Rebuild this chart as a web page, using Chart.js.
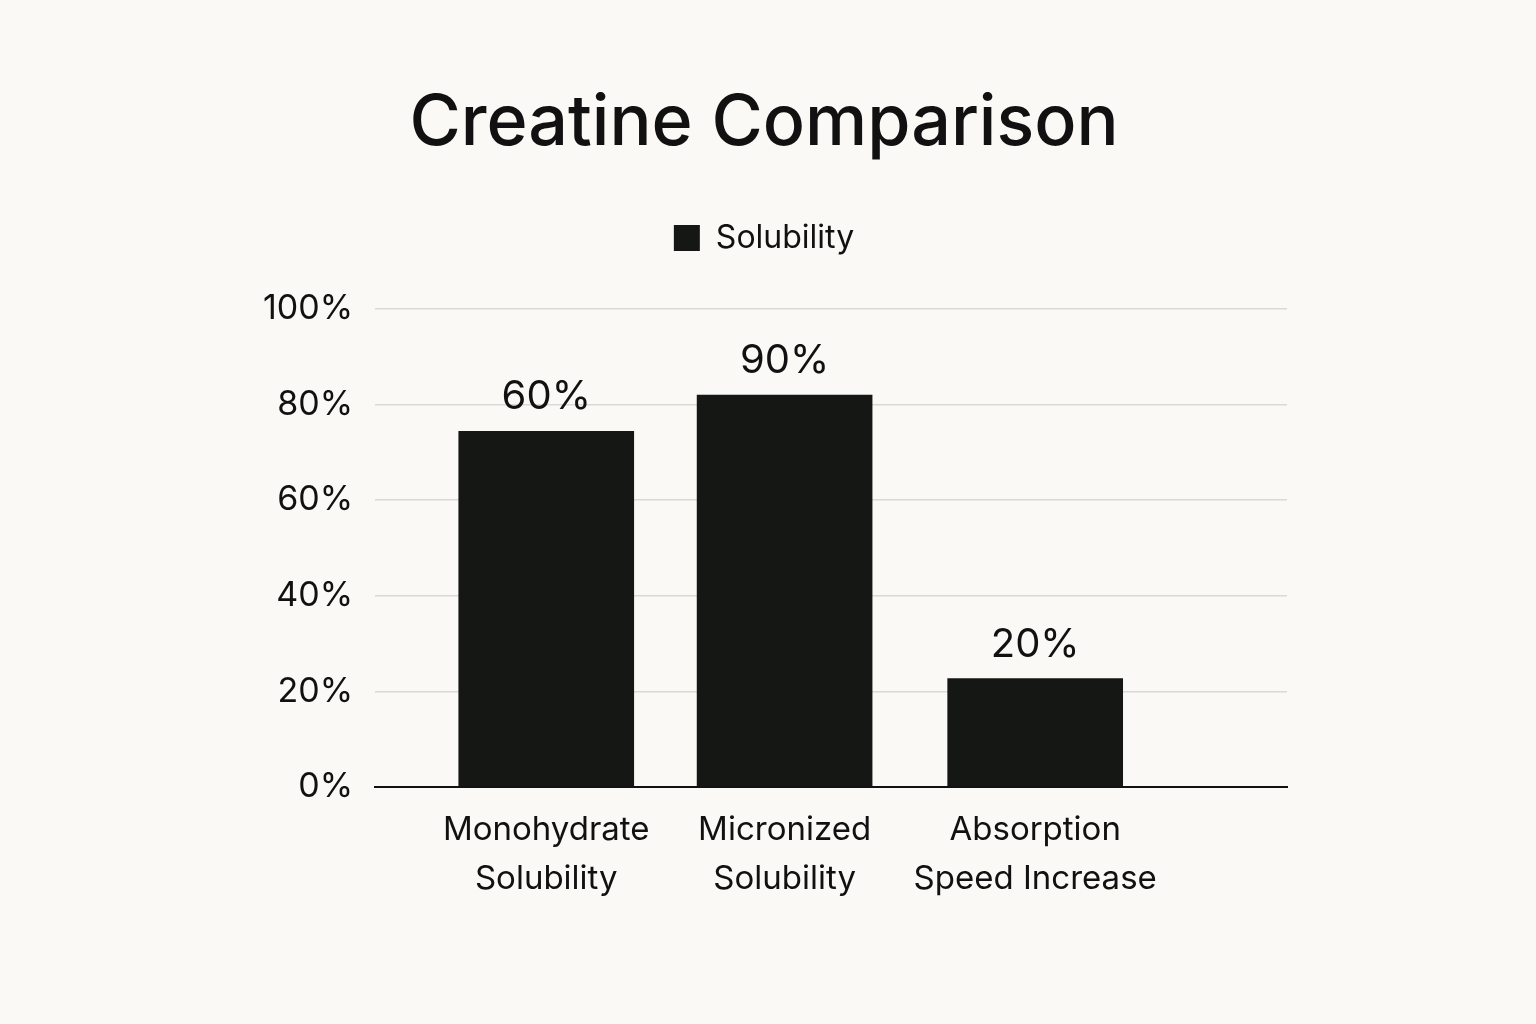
<!DOCTYPE html>
<html><head><meta charset="utf-8">
<script src="https://cdn.jsdelivr.net/npm/chart.js@4"></script>
<style>html,body{margin:0;background:#faf9f5}#w{width:1536px;height:1024px}</style>
</head><body><div id="w"><canvas id="c"></canvas></div>
<script>
const categories = [["Monohydrate","Solubility"],["Micronized","Solubility"],["Absorption","Speed Increase"]];
const positions = [1, 1.975, 3.0];
const values = [74.4, 82, 22.7];
const valueLabels = ["60%", "90%", "20%"];
const yTicks = [0,20,40,60,80,100];

const labelPlugin = {
  id:'vl',
  afterDatasetsDraw(chart){
    const ctx=chart.ctx, meta=chart.getDatasetMeta(0);
    ctx.save();ctx.font='40px Inter';ctx.fillStyle='#111';ctx.textAlign='center';ctx.textBaseline='bottom';
    meta.data.forEach((b,i)=>ctx.fillText(valueLabels[i], b.x, b.y-14));
    ctx.restore();
  }
};
new Chart(document.getElementById('c'),{
  type:'bar',
  data:{datasets:[{label:'Solubility',data:positions.map((x,i)=>({x,y:values[i]})),backgroundColor:'#151714',barThickness:175}]},
  plugins:[labelPlugin,{id:'lp',beforeInit(c){const f=c.legend.fit;c.legend.fit=function(){f.bind(c.legend)();this.height+=45;};}}],
  options:{
    responsive:true,maintainAspectRatio:false,animation:false,
    layout:{padding:{left:241,right:249,top:22,bottom:110}},
    plugins:{
      title:{display:true,text:'Creatine Comparison',font:{family:'Inter',size:70,weight:'500'},color:'#111',padding:{top:60,bottom:36}},
      legend:{labels:{font:{family:'Inter',size:32},color:'#111',boxWidth:26,boxHeight:26,padding:20}},
      tooltip:{enabled:false}
    },
    scales:{
      x:{type:'linear',min:0.3,max:4.03,offset:false,
        afterBuildTicks(s){s.ticks=positions.map(v=>({value:v}));},
        ticks:{autoSkip:false,callback:(v,i)=>categories[i],font:{family:'Inter',size:33,lineHeight:1.5},color:'#111',padding:10,maxRotation:0},
        grid:{display:false},border:{color:'#111',width:2}},
      y:{min:0,max:100,
        afterBuildTicks(s){s.ticks=yTicks.map(v=>({value:v}));},
        ticks:{callback:v=>v+'%',font:{family:'Inter',size:34},color:'#111',padding:22},
        grid:{color:'#d9d9d6',lineWidth:1.5,drawTicks:false},border:{display:false}}
    }
  }
});
</script></body></html>
